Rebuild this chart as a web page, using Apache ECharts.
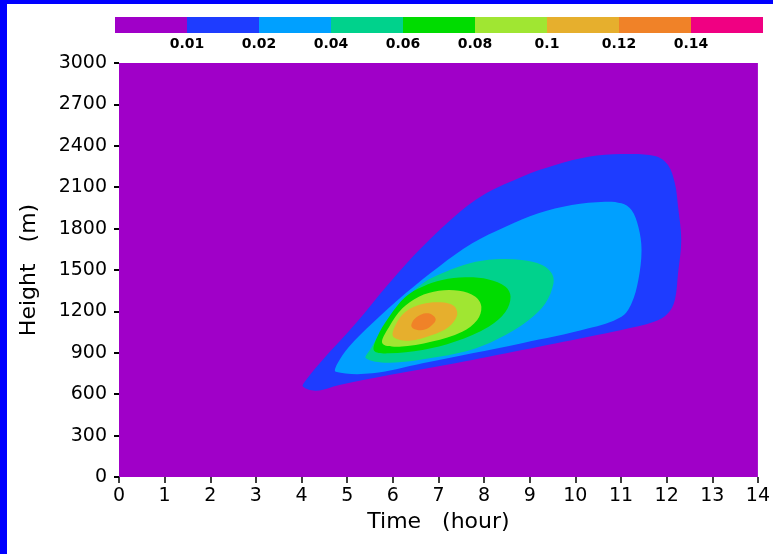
<!DOCTYPE html>
<html>
<head>
<meta charset="utf-8">
<script src="https://cdn.jsdelivr.net/npm/echarts@6/dist/echarts.min.js"></script>
<style>
html, body { margin: 0; padding: 0; background: #ffffff; }
#chart { width: 773px; height: 554px; }
</style>
</head>
<body>
<div id="chart"></div>
<script>
// Contour levels (colour bar labels) and the fill colour of each band
const levelLabels = ['0.01', '0.02', '0.04', '0.06', '0.08', '0.1', '0.12', '0.14'];
const bandColors = ['#a000c8', '#1e3cff', '#00a0ff', '#00d28c', '#00dc00', '#a0e632', '#e6af2d', '#f08228', '#f00082'];

// Closed contour lines, points are [time (hour), height (m)]
const contour001 = [
  [4.03, 655], [4.32, 625], [4.83, 667], [5.92, 739], [7.37, 824], [8.83, 920],
  [10.29, 1017], [11.01, 1065], [11.74, 1126], [12.03, 1186], [12.18, 1283],
  [12.25, 1476], [12.32, 1717], [12.25, 1959], [12.18, 2128], [12.03, 2261],
  [11.74, 2326], [11.01, 2340], [10.29, 2321], [9.56, 2261], [8.83, 2176],
  [7.81, 2007], [6.65, 1669], [5.92, 1404], [5.19, 1114], [4.46, 848], [4.10, 703]
];
const contour002 = [
  [4.75, 763], [5.55, 751], [6.65, 824], [8.83, 969], [10.29, 1077], [11.01, 1162],
  [11.23, 1258], [11.38, 1427], [11.45, 1645], [11.38, 1814], [11.23, 1935],
  [11.01, 1983], [10.65, 1995], [9.92, 1971], [9.19, 1911], [8.47, 1814],
  [7.74, 1693], [7.01, 1524], [6.28, 1331], [5.55, 1114], [5.04, 944], [4.79, 824]
];
const contour004 = [
  [5.41, 860], [5.92, 828], [7.01, 872], [7.81, 932], [8.47, 1029], [8.98, 1138],
  [9.34, 1258], [9.52, 1403], [9.48, 1476], [9.27, 1536], [8.83, 1572], [8.25, 1577],
  [7.67, 1548], [7.16, 1488], [6.65, 1403], [6.14, 1234], [5.77, 1065], [5.52, 932]
];
const contour006 = [
  [5.59, 915], [5.92, 896], [6.65, 920], [7.37, 981], [8.10, 1089], [8.47, 1198],
  [8.58, 1307], [8.47, 1379], [8.10, 1432], [7.59, 1447], [7.08, 1427], [6.65, 1379],
  [6.28, 1307], [5.92, 1162], [5.66, 1017]
];
const contour008 = [
  [5.77, 969], [6.14, 944], [6.86, 981], [7.52, 1053], [7.85, 1138], [7.94, 1234],
  [7.81, 1307], [7.45, 1350], [7.01, 1350], [6.57, 1307], [6.21, 1222], [5.92, 1089]
];
const contour010 = [
  [6.01, 1017], [6.36, 988], [6.86, 1029], [7.23, 1089], [7.41, 1174], [7.34, 1239],
  [7.05, 1266], [6.65, 1254], [6.28, 1198], [6.06, 1101]
];
const contour012 = [
  [6.41, 1089], [6.54, 1065], [6.72, 1070], [6.86, 1101], [6.94, 1142], [6.86, 1176],
  [6.72, 1186], [6.56, 1167], [6.44, 1130]
];

// Each ring is filled with the colour of the band just above its level
const contourRings = [contour001, contour002, contour004, contour006, contour008, contour010, contour012];

const tickFont = { fontFamily: 'DejaVu Sans', fontSize: 19, color: '#000000' };
const titleFont = { fontFamily: 'DejaVu Sans', fontSize: 22, color: '#000000' };

const chart = echarts.init(document.getElementById('chart'), null, { renderer: 'canvas' });

chart.setOption({
  backgroundColor: '#ffffff',
  animation: false,
  graphic: [
    { type: 'rect', left: 0, top: 0, shape: { width: 7, height: 554 }, style: { fill: '#0000ff' } },
    { type: 'rect', left: 0, top: 0, shape: { width: 773, height: 4 }, style: { fill: '#0000ff' } }
  ],
  grid: [
    { left: 119, top: 63, width: 641, height: 414, show: true, backgroundColor: bandColors[0], borderWidth: 0 },
    { left: 115, top: 17, width: 648, height: 16, show: false }
  ],
  xAxis: [
    {
      gridIndex: 0, type: 'value', min: 0, max: 14, interval: 1, offset: 2,
      axisLine: { show: false },
      axisTick: { show: true, length: 6, lineStyle: { color: '#000000', width: 1.5 } },
      axisLabel: Object.assign({ margin: 8, formatter: v => String(v) }, tickFont),
      splitLine: { show: false },
      name: 'Time   (hour)', nameLocation: 'middle', nameGap: 31,
      nameTextStyle: titleFont
    },
    {
      gridIndex: 1, type: 'value', min: 0, max: levelLabels.length + 1, interval: 1,
      axisLine: { show: false }, axisTick: { show: false }, splitLine: { show: false },
      axisLabel: {
        margin: 4, fontFamily: 'DejaVu Sans', fontSize: 14, fontWeight: 'bold', color: '#000000',
        formatter: v => levelLabels[v - 1] || ''
      }
    }
  ],
  yAxis: [
    {
      gridIndex: 0, type: 'value', min: 0, max: 3000, interval: 300, offset: 3,
      axisLine: { show: false },
      axisTick: { show: true, length: 5, lineStyle: { color: '#000000', width: 2 } },
      axisLabel: Object.assign({ margin: 9, formatter: v => String(v) }, tickFont),
      splitLine: { show: false },
      name: 'Height   (m)', nameLocation: 'middle', nameGap: 76, nameRotate: 90,
      nameTextStyle: titleFont
    },
    { gridIndex: 1, type: 'value', min: 0, max: 1, show: false }
  ],
  series: [
    {
      type: 'custom', name: 'contours', xAxisIndex: 0, yAxisIndex: 0,
      clip: true,
      data: contourRings.map((ring, i) => [ring[0][0], ring[0][1], i]),
      renderItem: function (params, api) {
        const k = api.value(2);
        const pts = contourRings[k].map(p => api.coord(p));
        return {
          type: 'polygon',
          shape: { points: pts, smooth: 0.35 },
          style: { fill: bandColors[k + 1] }
        };
      }
    },
    {
      type: 'custom', name: 'colorbar', xAxisIndex: 1, yAxisIndex: 1,
      data: bandColors.map((c, i) => [i, 0]),
      renderItem: function (params, api) {
        const i = api.value(0);
        const a = api.coord([i, 1]);
        const b = api.coord([i + 1, 0]);
        return {
          type: 'rect',
          shape: { x: a[0], y: a[1], width: b[0] - a[0], height: b[1] - a[1] },
          style: { fill: bandColors[i] }
        };
      }
    }
  ]
});
</script>
</body>
</html>
